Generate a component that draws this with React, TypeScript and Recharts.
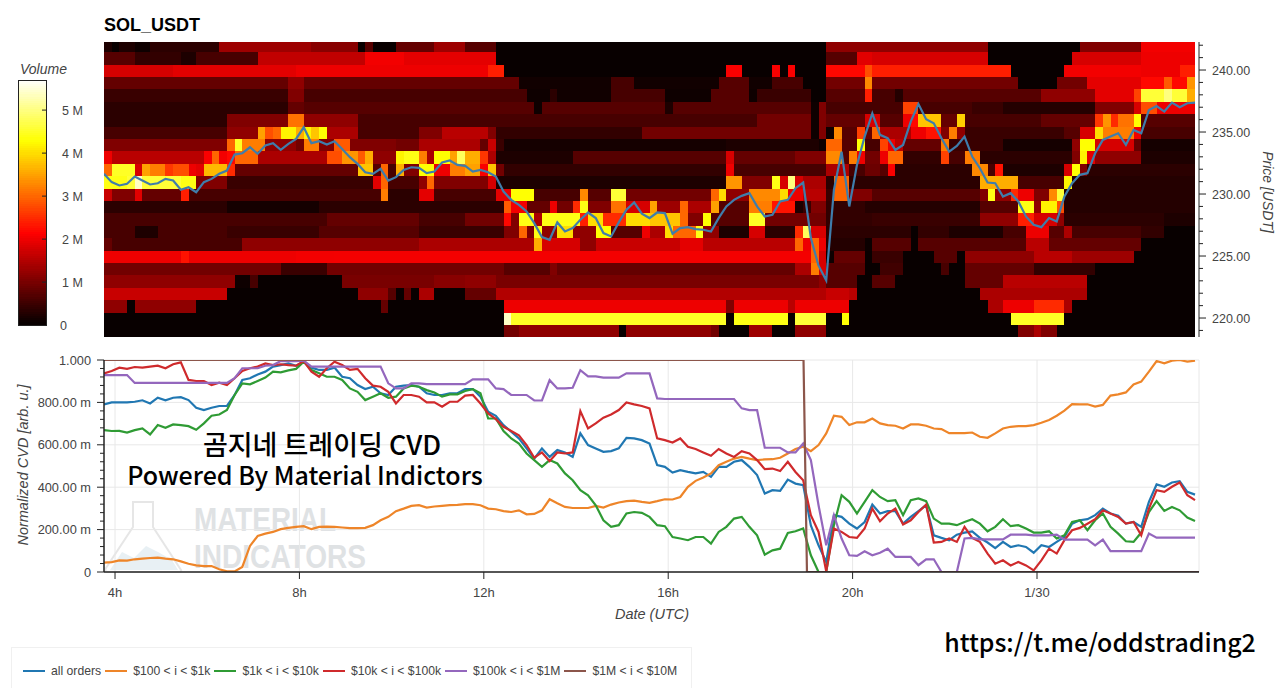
// App.tsx - SOL_USDT order book heatmap with normalized CVD panel

import { ComposedChart, Scatter, Line, XAxis, YAxis, CartesianGrid } from "recharts";

// ─── Data ────────────────────────────────────────────────────────────────────

type Run = [number, number]; // [end column (10 min cells), volume in M]

const ROW_242: Run[] = [[1,.2],[2,.05],[4,.2],[6,.1],[15,.3],[27,1.1],[33,.95],[34,.05],[35,.6],[38,.05],[43,.7],[47,1.1],[51,.6],[94,.05],[115,1.0],[127,.05],[135,.9],[142,1.7]];
const ROW_241: Run[] = [[4,.6],[10,.35],[12,.2],[20,.5],[34,1.35],[39,1.7],[51,1.6],[94,.05],[98,.6],[100,1.9],[115,1.5],[126,.05],[135,1.5],[142,2.0]];
const ROW_240: Run[] = [[9,1.5],[25,1.9],[50,2.0],[52,2.4],[81,.05],[83,2.1],[87,.05],[88,2.1],[89,.05],[90,2.1],[94,.05],[99,2.2],[100,2.8],[118,2.4],[125,.05],[135,1.7],[140,2.0],[142,2.4]];
const ROW_239: Run[] = [[24,.7],[26,1.0],[54,.7],[66,.12],[69,.5],[80,.12],[84,.6],[87,.12],[91,.5],[94,.05],[99,.8],[100,3.3],[119,.8],[124,.05],[128,.8],[135,1.6],[138,2.2],[139,2.9],[141,2.2],[142,3.4]];
const ROW_238: Run[] = [[24,.4],[26,.9],[55,.5],[58,.1],[59,.3],[66,.12],[73,.5],[79,.1],[84,.6],[85,.1],[92,.4],[94,.05],[99,.6],[100,2.4],[103,.5],[104,.25],[122,.6],[129,1.0],[134,1.6],[135,2.7],[138,4.6],[139,5.0],[141,4.6],[142,3.6]];
const ROW_237: Run[] = [[24,.3],[26,.7],[56,.6],[57,.1],[73,.6],[74,.2],[92,.6],[93,.1],[94,.9],[104,.5],[106,2.7],[113,.5],[117,.4],[129,.25],[134,.9],[135,1.8],[137,2.8],[142,2.0]];
const ROW_236: Run[] = [[16,.3],[24,.9],[26,3.1],[33,1.0],[69,.5],[85,.5],[92,.8],[93,.1],[94,.9],[99,.7],[101,1.8],[104,.6],[105,2.0],[106,2.2],[109,3.8],[111,.7],[112,3.9],[122,.5],[129,.7],[130,2.6],[131,3.4],[132,2.5],[134,3.1],[135,4.3],[142,.6]];
const ROW_235: Run[] = [[16,.5],[20,1.0],[21,3.5],[22,2.8],[23,3.0],[25,4.2],[26,3.6],[27,4.2],[28,3.8],[29,4.3],[33,1.2],[41,.5],[44,.9],[50,1.3],[51,.9],[70,.35],[92,.8],[93,.1],[94,.9],[95,.1],[96,3.3],[98,.6],[99,2.7],[100,.7],[101,3],[105,1.2],[107,2.0],[109,2.3],[110,.9],[111,3.2],[112,1.0],[125,.4],[127,.6],[129,1.8],[130,4],[134,3.2],[135,2.0],[142,.5]];
const ROW_234: Run[] = [[16,.9],[17,3.0],[18,4.5],[21,3.2],[25,1.0],[26,.8],[28,3.2],[30,.9],[32,2.9],[38,.9],[41,.8],[49,1.2],[50,.7],[51,1.4],[52,.4],[81,.15],[93,.2],[94,.1],[96,3.0],[98,.6],[99,4.3],[101,.5],[102,2.7],[103,2],[104,1.3],[109,.7],[110,3.2],[117,.4],[126,.15],[127,1],[129,4.3],[134,1.5],[135,.7],[142,.15]];
const ROW_233: Run[] = [[1,2.0],[13,1.3],[14,2.1],[15,3.0],[16,1.7],[17,2.2],[20,3.0],[29,1.2],[31,2.8],[33,3.4],[34,2.9],[35,3.6],[38,1.0],[39,4.2],[41,4.4],[42,3.2],[43,1.2],[45,4.3],[46,3.5],[47,4.8],[49,3.6],[50,2.6],[51,1.2],[61,.2],[81,.6],[82,1.8],[90,.7],[94,.9],[96,3.3],[97,.6],[98,3.2],[99,2],[101,.8],[102,2.0],[104,3.0],[109,.35],[110,2.7],[112,.5],[114,3.2],[126,.3],[127,.9],[128,4.2],[129,1.6],[135,1.0],[142,.2]];
const ROW_232: Run[] = [[1,3.0],[4,4.5],[5,1.8],[6,3.5],[8,3.2],[9,2.6],[11,2.8],[12,2],[13,1.9],[16,3.7],[17,2.5],[33,.7],[35,3.8],[36,.6],[37,3.0],[38,.5],[39,3.6],[41,.9],[43,4.3],[45,2.0],[47,3.2],[49,3.5],[50,2.1],[51,3.8],[52,.8],[81,.35],[82,2.0],[94,.5],[97,1.2],[99,.5],[101,.75],[102,.6],[103,2.1],[113,.3],[115,3.3],[116,.5],[117,2.3],[125,.2],[126,1.8],[127,4.3],[128,.9],[142,.3]];
const ROW_231: Run[] = [[3,4.4],[4,4.6],[5,5.4],[10,4.6],[12,4.4],[16,.9],[35,.4],[36,1.9],[37,3.0],[41,.5],[42,1.0],[43,3.0],[50,.9],[51,1.8],[81,.2],[83,3.4],[87,.9],[88,4.4],[89,1.5],[90,5.0],[91,1.5],[94,1.2],[95,.3],[97,3.0],[114,.3],[119,3.6],[125,.5],[126,4.2],[142,.25]];
const ROW_230: Run[] = [[1,1.4],[4,.9],[5,1.9],[10,.7],[11,2.4],[36,.5],[37,3.2],[41,.3],[43,1.6],[51,.5],[53,1.6],[56,4.3],[62,.5],[63,3.3],[66,.6],[68,4.6],[79,.8],[80,3],[81,4],[84,1.0],[88,3.3],[89,4],[91,2],[94,1.3],[95,.4],[97,3],[100,.9],[114,.6],[115,.9],[116,4.4],[118,1.0],[119,2.5],[121,2],[123,.9],[124,3.3],[125,4.6],[142,.25]];
const ROW_229: Run[] = [[16,.3],[28,.15],[52,.3],[53,2.9],[55,1.7],[58,.7],[59,2],[61,.8],[62,2.5],[63,4.4],[66,.9],[68,3.1],[71,1.5],[72,3.5],[75,1.1],[76,3],[79,1.2],[80,3.5],[84,.6],[87,3.2],[90,2.3],[91,.2],[92,.4],[94,.9],[99,.35],[114,.25],[119,.6],[121,4.4],[122,1.0],[124,4.2],[125,2.8],[142,.25]];
const ROW_228: Run[] = [[29,.5],[41,.7],[47,.5],[52,.8],[53,2.2],[54,.9],[56,4.4],[57,1.2],[62,4.4],[63,2.4],[65,4.0],[68,2.5],[71,4],[75,3.8],[76,3],[78,.9],[79,4.3],[84,.6],[86,4.5],[94,.8],[100,.35],[114,.4],[119,1.0],[121,2.4],[124,1.8],[125,1],[138,.3],[142,.2]];
const ROW_227: Run[] = [[4,.5],[7,.2],[16,.5],[28,.4],[41,.6],[52,.4],[54,.9],[55,3.0],[56,.9],[57,4.4],[59,1.0],[61,4],[64,1.0],[66,4.3],[70,.6],[71,2],[73,1.2],[74,4],[77,3.0],[78,4.4],[80,1],[84,.2],[86,1.5],[90,.3],[91,2.5],[92,4.8],[94,1.5],[105,.3],[106,.05],[110,.35],[117,.2],[120,.5],[123,2.0],[125,.6],[126,1.2],[135,.5],[138,.35],[142,.05]];
const ROW_226: Run[] = [[1,.7],[18,.5],[41,1.0],[56,1.2],[57,3.6],[62,1.5],[64,1.0],[75,1.4],[78,1.6],[90,1.3],[91,3],[92,2],[93,3],[94,2],[99,.25],[100,.08],[105,.6],[106,.05],[120,.6],[123,1.3],[135,.7],[142,.05]];
const ROW_225: Run[] = [[10,2.0],[11,2.3],[25,2.0],[30,1.7],[92,2.05],[93,3],[94,1.8],[95,.1],[99,.7],[100,.05],[104,.4],[108,.05],[111,.6],[112,.05],[121,1.0],[126,1.3],[134,1.1],[142,.05]];
const ROW_224: Run[] = [[23,.8],[29,.4],[52,.8],[58,.6],[59,.9],[90,.7],[92,1.2],[93,3.2],[94,1.5],[99,.6],[101,.05],[104,.45],[109,.05],[110,.5],[112,.05],[121,.7],[129,.35],[142,.05]];
const ROW_223: Run[] = [[17,1.0],[19,.1],[20,.5],[31,.05],[43,.85],[47,.95],[51,1.0],[93,.85],[94,1.0],[98,.6],[100,.05],[103,.6],[112,.05],[117,.7],[128,1.3],[142,.05]];
const ROW_222: Run[] = [[16,1.4],[33,.05],[37,1.0],[38,.6],[39,.05],[40,.7],[41,.05],[43,1.2],[47,.05],[51,.7],[94,1.25],[97,1.4],[98,1.3],[114,.05],[128,1.2],[142,.05]];
const ROW_221: Run[] = [[3,1.0],[4,.05],[12,1.0],[36,.05],[37,.7],[52,.05],[81,2.0],[82,.9],[89,2],[90,1.3],[97,2],[115,.05],[117,1.2],[121,2.0],[125,2.5],[126,1.2],[142,.05]];
const ROW_220: Run[] = [[52,.05],[53,5.4],[81,4.5],[82,.05],[89,4.4],[90,.05],[94,4.6],[96,.05],[97,4.3],[118,.05],[125,4.5],[142,.05]];
const ROW_219: Run[] = [[52,.05],[54,.8],[67,1.0],[68,.05],[79,1.0],[80,.8],[84,.05],[87,1.1],[90,.05],[94,1.0],[119,.05],[121,.9],[122,1.2],[124,.9],[142,.05]];

const HEAT_ROWS: [number, Run[]][] = [
  [242, ROW_242], [241, ROW_241], [240, ROW_240], [239, ROW_239], [238, ROW_238], [237, ROW_237],
  [236, ROW_236], [235, ROW_235], [234, ROW_234], [233, ROW_233], [232, ROW_232], [231, ROW_231],
  [230, ROW_230], [229, ROW_229], [228, ROW_228], [227, ROW_227], [226, ROW_226], [225, ROW_225],
  [224, ROW_224], [223, ROW_223], [222, ROW_222], [221, ROW_221], [220, ROW_220], [219, ROW_219],
];

const PRICE = [
  231.63,230.96,230.69,230.82,231.41,231.09,230.77,230.87,231.22,231.09,230.34,230.55,230.15,230.96,231.22,231.63,231.89,233.18,233.29,233.77,233.24,233.91,234.10,233.56,234.04,234.44,235.38,234.10,234.26,233.99,234.26,233.64,232.97,232.43,231.76,231.63,232.03,231.09,231.36,231.95,232.16,232.11,
  231.68,231.81,232.54,232.70,232.35,232.27,231.81,231.95,231.76,231.41,230.20,229.53,229.13,228.59,227.65,226.53,226.31,227.71,226.98,227.25,227.92,228.51,228.06,226.85,226.58,227.71,228.73,229.32,228.41,228.06,228.51,228.46,226.80,227.25,227.33,227.17,227.12,226.98,228.06,229.0,229.53,229.85,230.07,229.0,228.19,228.33,229.40,229.53,230.47,230.93,226.45,224.22,223.04,230.34,
  233.42,229.0,232.35,234.63,236.51,234.77,234.5,233.56,233.96,235.84,237.26,236.03,235.71,234.5,233.42,233.88,234.63,233.02,232.08,230.93,230.87,229.8,230.07,229.4,228.19,227.52,227.33,228.06,227.79,229.8,230.87,231.55,231.68,233.29,234.36,234.63,234.9,233.96,235.17,234.9,236.78,237.1,236.65,237.37,237.0,237.32,237.37,
];

// CVD series in milli units, one value every 10 minutes
const ALL_ORDERS = [
  791,800,800,800,803,810,795,822,810,822,825,811,775,764,775,783,784,835,906,914,932,945,969,976,984,973,992,964,953,953,964,921,914,882,863,874,843,835,874,879,882,874,
  843,835,835,843,843,863,863,827,756,737,693,662,630,583,535,583,543,575,564,543,654,599,583,567,570,583,633,630,622,606,504,496,469,480,472,465,472,449,496,496,520,528,496,457,370,386,383,436,417,410,220,126,47,268,
  260,228,205,236,318,276,287,287,228,260,287,315,173,161,150,176,186,192,161,139,113,142,118,126,118,91,126,118,142,165,228,244,249,268,299,276,265,228,236,213,331,413,402,422,428,378,365,
];
const ORDERS_100_1K = [
  44,47,55,54,60,63,66,68,63,60,50,39,31,28,28,13,3,3,24,123,170,181,189,202,208,213,216,202,213,214,213,210,207,207,208,221,244,260,287,299,312,315,
  304,309,312,315,317,320,320,315,299,296,287,283,291,272,274,291,343,324,307,302,302,302,312,304,318,328,334,337,331,326,334,343,342,354,402,430,446,465,504,520,535,543,535,528,531,532,539,559,580,591,570,599,654,737,
  732,693,706,706,724,701,693,690,677,696,696,690,677,674,655,655,655,658,638,633,654,677,685,688,688,693,704,717,737,761,792,791,791,780,788,832,838,847,885,898,945,995,984,997,1000,992,997,
];
const ORDERS_1K_10K = [
  669,665,666,658,669,677,649,693,680,696,693,688,671,701,737,743,764,835,890,885,901,917,945,942,951,958,992,953,937,921,921,906,866,850,811,827,843,822,827,866,879,874,
  858,847,827,838,838,854,862,843,724,724,665,630,606,559,528,496,528,512,465,433,386,362,315,244,213,221,276,283,279,260,221,216,165,158,150,165,165,134,189,213,252,260,213,173,82,102,110,184,192,205,79,0,0,221,
  362,331,276,331,386,354,334,339,268,339,347,334,252,228,228,221,236,249,228,192,213,249,216,221,205,186,186,192,158,173,236,244,197,244,276,213,181,145,142,186,283,334,288,307,291,257,241,
];
const ORDERS_10K_100K = [
  937,948,964,958,967,964,969,973,961,980,989,906,901,901,882,893,882,914,948,961,969,984,976,980,976,973,995,945,921,961,992,976,953,958,914,879,874,850,795,835,835,827,
  800,800,780,803,803,832,835,795,748,721,685,665,645,599,539,564,523,564,559,564,759,677,701,728,743,764,800,791,783,772,630,622,611,630,591,580,564,548,580,559,543,570,559,528,485,488,476,520,472,433,268,189,3,205,
  189,165,161,205,299,239,276,299,224,244,283,318,139,142,158,142,213,161,142,87,39,55,31,47,31,8,55,110,87,150,197,208,228,249,291,276,260,228,236,173,299,386,378,402,422,362,339,
];
const ORDERS_100K_1M = [
  929,929,929,929,892,892,892,892,892,892,892,892,892,892,892,892,892,914,961,961,961,973,976,995,995,995,997,969,969,969,969,969,969,969,969,969,969,890,866,866,890,890,
  886,886,886,886,886,886,909,909,909,866,863,835,835,835,809,809,905,866,866,869,952,923,923,917,917,917,937,937,937,937,819,816,816,816,816,816,816,816,816,816,816,772,764,764,586,586,586,564,564,606,528,315,126,268,
  158,79,76,98,79,91,110,71,71,71,32,60,60,0,0,0,158,161,154,154,154,154,176,176,176,173,173,173,176,153,153,153,153,126,153,98,98,98,98,98,181,162,162,162,162,162,162,
];
const ORDERS_1M_10M_TIME = [3.761, 18.935, 19.01, 27.514];
const ORDERS_1M_10M = [1000, 1000, 0, 0];

const SERIES_NAMES = ["all orders", "$100 < i < $1k", "$1k < i < $10k", "$10k < i < $100k", "$100k < i < $1M", "$1M < i < $10M"];
const SERIES_COLORS = ["#2077b2", "#ee8529", "#2f9b34", "#cf2a2c", "#9467bd", "#8c564b"];

const PRICE_TICKS = [219,220,221,222,223,224,225,226,227,228,229,230,231,232,233,234,235,236,237,238,239,240,241,242];
const CVD_TICKS = [0,40,80,120,160,200,240,280,320,360,400,440,480,520,560,600,640,680,720,760,800,840,880,920,960,1000];
const CVD_GRID = [0, 200, 400, 600, 800, 1000];
const TIME_TICKS = [4, 8, 12, 16, 20, 24];
const TIME_LABELS = ["4h", "8h", "12h", "16h", "20h", "1/30"];
const VOLUME_TICKS = [0, 1, 2, 3, 4, 5];
const VOLUME_LABELS = ["0", "1 M", "2 M", "3 M", "4 M", "5 M"];

// ─── Constants ───────────────────────────────────────────────────────────────

const FONT = '"Liberation Sans", Arial, sans-serif';
const CJK_FONT = '"Noto Sans CJK KR", "Noto Sans", sans-serif';
const TEXT_COLOR = "#444";
const AXIS_COLOR = "#222";

const T_START = 3.761;
const T_END = 27.514;
const CELL_T = 1 / 6;
const PRICE_MIN = 218.47;
const PRICE_MAX = 242.26;
const PLOT_LEFT = 104;
const PLOT_RIGHT = 1199;
const HEAT_TOP = 42;
const HEAT_BOTTOM = 337;
const CVD_BOTTOM = 227; // inside the lower chart's own box
const PX_PER_T = (PLOT_RIGHT - PLOT_LEFT) / (T_END - T_START);
const PX_PER_USD = (HEAT_BOTTOM - HEAT_TOP) / (PRICE_MAX - PRICE_MIN);

// ─── Helpers ─────────────────────────────────────────────────────────────────

// hot colormap, same stops as the volume bar
function hot(v: number): string {
  const t = v / 5.72;
  const r = Math.min(1, t / 0.375);
  const g = Math.max(0, Math.min(1, (t - 0.375) / 0.375));
  const b = Math.max(0, Math.min(1, (t - 0.75) / 0.25));
  const ch = (x: number) => Math.round(x * 255);
  return `rgb(${Math.max(8, ch(r))},${ch(g)},${ch(b)})`;
}

const heatCells = HEAT_ROWS.flatMap(([p, runs]) => {
  const cells: { t: number; p: number; v: number }[] = [];
  let col = 0;
  runs.forEach(([end, v]) => {
    for (; col < end; col++) cells.push({ t: T_START + (col + 0.5) * CELL_T, p, v: v < 1.8 ? v * 1.2 : v });
  });
  return cells;
});

const priceData = PRICE.map((price, i) => ({ t: T_START + i * CELL_T, price }));

const cvdData = ALL_ORDERS.map((_, i) => ({
  t: T_START + i * CELL_T,
  s0: ALL_ORDERS[i],
  s1: ORDERS_100_1K[i],
  s2: ORDERS_1K_10K[i],
  s3: ORDERS_10K_100K[i],
  s4: ORDERS_100K_1M[i],
}));

const brownData = ORDERS_1M_10M.map((v, i) => ({ t: ORDERS_1M_10M_TIME[i], s5: v }));

const VOLUME_STEPS = Array.from({ length: 115 }, (_, i) => i * 0.05);
const volumeData = VOLUME_STEPS.map((v) => ({ x: 0.5, y: v, v }));

function HeatCell({ cx, cy, payload }: any) {
  const w = PX_PER_T * CELL_T;
  // rows sit a touch under their price tick in the source image
  const top = Math.max(HEAT_TOP, cy + 0.8 - PX_PER_USD / 2);
  const bottom = Math.min(HEAT_BOTTOM, cy + 0.8 + PX_PER_USD / 2);
  return (
    <rect x={cx - w / 2} y={top} width={w + 0.4} height={bottom - top + 0.4} fill={hot(payload.v)} shapeRendering="crispEdges" />
  );
}

function VolumeCell({ cx, cy, payload }: any) {
  return <rect x={cx - 14.5} y={cy - 1.5} width={29} height={3} fill={hot(payload.v)} shapeRendering="crispEdges" />;
}

function PriceTick({ y, payload }: any) {
  const major = payload.value % 5 === 0;
  return (
    <g>
      <line x1={PLOT_RIGHT} x2={PLOT_RIGHT + (major ? 7 : 4)} y1={y} y2={y} stroke={AXIS_COLOR} />
      {major && (
        <text x={PLOT_RIGHT + 13} y={y + 4.5} fontSize={12.5} fontFamily={FONT} fill={TEXT_COLOR}>
          {payload.value.toFixed(2)}
        </text>
      )}
    </g>
  );
}

function formatCvd(v: number): string {
  if (v === 1000) return "1.000";
  if (v === 0) return "0";
  return `${v}.00 m`;
}

function CvdTick({ y, payload }: any) {
  const major = payload.value % 200 === 0;
  return (
    <g>
      <line x1={PLOT_LEFT - (major ? 7 : 4)} x2={PLOT_LEFT} y1={y} y2={y} stroke={AXIS_COLOR} />
      {major && (
        <text x={PLOT_LEFT - 13} y={y + 4.5} textAnchor="end" fontSize={12.8} fontFamily={FONT} fill={TEXT_COLOR}>
          {formatCvd(payload.value)}
        </text>
      )}
    </g>
  );
}

function TimeTick({ x, payload }: any) {
  return (
    <g>
      <line x1={x} x2={x} y1={CVD_BOTTOM} y2={CVD_BOTTOM + 7} stroke={AXIS_COLOR} />
      <text x={x} y={CVD_BOTTOM + 25} textAnchor="middle" fontSize={13} fontFamily={FONT} fill={TEXT_COLOR}>
        {TIME_LABELS[TIME_TICKS.indexOf(payload.value)]}
      </text>
    </g>
  );
}

function VolumeTick({ y, payload }: any) {
  return (
    <g>
      {payload.value > 0 && <line x1={42} x2={47} y1={y} y2={y} stroke={AXIS_COLOR} />}
      <text x={payload.value === 0 ? 60 : 62} y={y + 4.5} fontSize={12.5} fontFamily={FONT} fill={TEXT_COLOR}>
        {VOLUME_LABELS[payload.value]}
      </text>
    </g>
  );
}

// ─── Overlays ────────────────────────────────────────────────────────────────

function Watermark() {
  return (
    <svg width={1280} height={688} style={{ position: "absolute", left: 0, top: 0 }}>
      <path d="M110 570 L122 552 L134 558 L146 546 L158 552 L172 560 L178 570 Z" fill="#e8f0f4" />
      <path d="M133 502 H153 V527 L181 570 Q182 572 178 572 H108 Q104 572 106 568 L133 527 Z" fill="none" stroke="#e6e6e6" strokeWidth={2} />
      <text x={194} y={531} fontFamily={FONT} fontWeight="bold" fontSize={33} fill="#dfe2e4" textLength={142} lengthAdjust="spacingAndGlyphs">
        MATERIAL
      </text>
      <text x={194} y={568} fontFamily={FONT} fontWeight="bold" fontSize={33} fill="#dfe2e4" textLength={172} lengthAdjust="spacingAndGlyphs">
        INDICATORS
      </text>
    </svg>
  );
}

function Annotations() {
  return (
    <svg width={1280} height={688} style={{ position: "absolute", left: 0, top: 0, pointerEvents: "none" }}>
      <text x={104} y={31} fontFamily={FONT} fontWeight="bold" fontSize={18} fill="#000">
        SOL_USDT
      </text>
      <text x={20} y={74} fontFamily={FONT} fontStyle="italic" fontSize={14} fill={TEXT_COLOR}>
        Volume
      </text>
      <rect x={18.5} y={80.5} width={28} height={245} fill="none" stroke={AXIS_COLOR} />
      <text transform="translate(1263,192) rotate(90)" textAnchor="middle" fontFamily={FONT} fontStyle="italic" fontSize={14} fill={TEXT_COLOR}>
        Price [USDT]
      </text>
      <text transform="translate(28,465) rotate(-90)" textAnchor="middle" fontFamily={FONT} fontStyle="italic" fontSize={14.5} fill={TEXT_COLOR}>
        Normalized CVD [arb. u.]
      </text>
      <text x={652} y={619} textAnchor="middle" fontFamily={FONT} fontStyle="italic" fontSize={14.5} fill={TEXT_COLOR}>
        Date (UTC)
      </text>
      <text x={322} y={455} textAnchor="middle" fontFamily={CJK_FONT} fontWeight={500} fontSize={27} fill="#000">
        곰지네 트레이딩 CVD
      </text>
      <text x={305} y={485} textAnchor="middle" fontFamily={CJK_FONT} fontWeight={500} fontSize={25} fill="#000">
        Powered By Material Indictors
      </text>
      <text x={1100} y={652} textAnchor="middle" fontFamily={CJK_FONT} fontWeight={500} fontSize={24.9} fill="#000">
        https://t.me/oddstrading2
      </text>
    </svg>
  );
}

function CvdLegend() {
  return (
    <div
      style={{
        position: "absolute",
        left: 11,
        top: 647,
        width: 681,
        height: 41,
        boxSizing: "border-box",
        border: "1px solid #f0f0f0",
        borderBottom: "none",
        display: "flex",
        alignItems: "center",
        paddingLeft: 11,
        paddingTop: 5,
        fontFamily: FONT,
        fontSize: 12.2,
        color: TEXT_COLOR,
        whiteSpace: "pre",
      }}
    >
      {SERIES_NAMES.map((name, i) => (
        <div key={name} style={{ display: "flex", alignItems: "center", marginRight: 4 }}>
          <span style={{ width: 22, height: 2, background: SERIES_COLORS[i], marginRight: 6 }} />
          {name}
        </div>
      ))}
    </div>
  );
}

// ─── Component ───────────────────────────────────────────────────────────────

export default function App() {
  return (
    <div style={{ position: "absolute", left: 0, top: 0, width: 1280, height: 688, overflow: "hidden", background: "#fff" }}>
      <Watermark />

      {/* Heatmap */}
      <div style={{ position: "absolute", left: 0, top: 0 }}>
        <ComposedChart width={1280} height={345} margin={{ top: HEAT_TOP, left: PLOT_LEFT, right: 21, bottom: 8 }}>
          <XAxis hide type="number" dataKey="t" domain={[T_START, T_END]} allowDataOverflow />
          <YAxis
            orientation="right"
            type="number"
            dataKey="p"
            width={60}
            domain={[PRICE_MIN, PRICE_MAX]}
            ticks={PRICE_TICKS}
            interval={0}
            tick={PriceTick}
            tickLine={false}
            axisLine={{ stroke: AXIS_COLOR }}
            allowDataOverflow
          />
          <Scatter data={heatCells} shape={HeatCell} isAnimationActive={false} />
        </ComposedChart>
      </div>

      {/* Price line, a layer of its own so it stays above the cells */}
      <div style={{ position: "absolute", left: 0, top: 0 }}>
        <ComposedChart width={1280} height={345} data={priceData} margin={{ top: HEAT_TOP, left: PLOT_LEFT, right: 21, bottom: 8 }}>
          <XAxis hide type="number" dataKey="t" domain={[T_START, T_END]} allowDataOverflow />
          <YAxis orientation="right" type="number" width={60} domain={[PRICE_MIN, PRICE_MAX]} tick={false} tickLine={false} axisLine={false} allowDataOverflow />
          <Line dataKey="price" stroke="#3f7dab" strokeWidth={2.2} dot={false} isAnimationActive={false} />
        </ComposedChart>
      </div>

      {/* Volume colour bar */}
      <div style={{ position: "absolute", left: 0, top: 0 }}>
        <ComposedChart width={100} height={345} margin={{ top: 80, left: 18, right: 13, bottom: 19 }}>
          <XAxis hide type="number" dataKey="x" domain={[0, 1]} />
          <YAxis
            orientation="right"
            type="number"
            dataKey="y"
            width={40}
            domain={[-0.02, 5.7]}
            ticks={VOLUME_TICKS}
            interval={0}
            tick={VolumeTick}
            tickLine={false}
            axisLine={false}
            allowDataOverflow
          />
          <Scatter data={volumeData} shape={VolumeCell} isAnimationActive={false} />
        </ComposedChart>
      </div>

      {/* Normalized CVD */}
      <div style={{ position: "absolute", left: 0, top: 345 }}>
        <ComposedChart width={1280} height={343} data={cvdData} margin={{ top: 15, left: 4, right: 81, bottom: 86 }}>
          <CartesianGrid stroke="#e8e8e8" horizontalValues={CVD_GRID} verticalValues={[...TIME_TICKS, T_END]} />
          <XAxis
            type="number"
            dataKey="t"
            height={30}
            domain={[T_START, T_END]}
            ticks={TIME_TICKS}
            interval={0}
            tick={TimeTick}
            tickLine={false}
            axisLine={{ stroke: AXIS_COLOR, strokeWidth: 1.5 }}
            allowDataOverflow
          />
          <YAxis
            type="number"
            width={100}
            domain={[0, 1000]}
            ticks={CVD_TICKS}
            interval={0}
            tick={CvdTick}
            tickLine={false}
            axisLine={{ stroke: AXIS_COLOR, strokeWidth: 1.5 }}
            allowDataOverflow
          />
          <Line dataKey="s0" stroke={SERIES_COLORS[0]} strokeWidth={2.2} dot={false} isAnimationActive={false} />
          <Line dataKey="s1" stroke={SERIES_COLORS[1]} strokeWidth={2.2} dot={false} isAnimationActive={false} />
          <Line dataKey="s2" stroke={SERIES_COLORS[2]} strokeWidth={2.2} dot={false} isAnimationActive={false} />
          <Line dataKey="s3" stroke={SERIES_COLORS[3]} strokeWidth={2.2} dot={false} isAnimationActive={false} />
          <Line dataKey="s4" stroke={SERIES_COLORS[4]} strokeWidth={2.2} dot={false} isAnimationActive={false} />
          <Line data={brownData} dataKey="s5" stroke={SERIES_COLORS[5]} strokeWidth={2.2} dot={false} isAnimationActive={false} />
        </ComposedChart>
      </div>

      <CvdLegend />
      <Annotations />
    </div>
  );
}
